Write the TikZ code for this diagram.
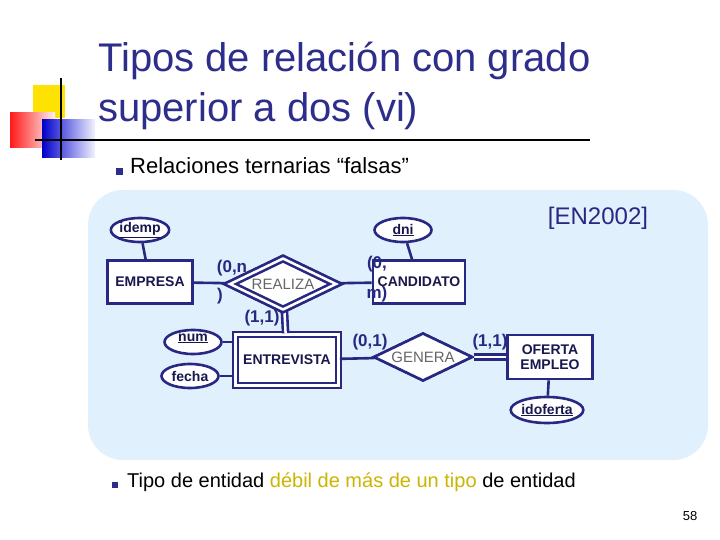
\documentclass[tikz,border=0pt]{standalone}
\usepackage{fontspec}
\setmainfont{Liberation Sans}
\usetikzlibrary{shapes.geometric}
\definecolor{navy}{RGB}{40,40,130}
\definecolor{tnavy}{RGB}{45,45,140}
\definecolor{bgblue}{RGB}{224,240,253}
\definecolor{ylw}{RGB}{205,180,0}
\tikzset{
  ent/.style={draw=navy,line width=2.6pt,fill=white,font=\bfseries\fontsize{14}{15}\selectfont,inner sep=0pt,text=navy!60!black},
  att/.style={ellipse,draw=navy,line width=2.6pt,fill=white,minimum width=57pt,minimum height=24pt,inner sep=0pt,font=\bfseries\fontsize{14}{15}\selectfont,text=navy!60!black},
  rel/.style={diamond,aspect=2,draw=navy,line width=2.6pt,fill=white,inner sep=0pt,font=\fontsize{15}{16}\selectfont,text=black!60},
  card/.style={font=\bfseries\fontsize{17}{18}\selectfont,text=navy,align=left},
  ln/.style={draw=navy,line width=2.6pt},
}
\begin{document}
\begin{tikzpicture}[x=1pt,y=-1pt]
\useasboundingbox (0,0) rectangle (720,540);
\fill[white] (0,0) rectangle (720,540);
% logo
\fill[yellow!85!orange] (33,85) rectangle (65,118);
\shade[left color=red!90,right color=red!5] (10,113) rectangle (55,148);
\shade[left color=blue!80!black,right color=blue!5] (42,120) rectangle (95,158);
\draw[line width=1.5pt] (61,78) -- (61,160);
\draw[line width=1.2pt] (35,140) -- (590,140);
% title
\node[anchor=base west,text=tnavy,font=\fontsize{40}{42}\selectfont,inner sep=0pt] (t1) at (98,72) {Tipos de relación con grado};
\node[anchor=base west,text=tnavy,font=\fontsize{40}{42}\selectfont,inner sep=0pt] (t2) at (98,122) {superior a dos (vi)};
\node[fill=tnavy,minimum size=7pt,inner sep=0pt] (b1) at (119,172) {};
\node[anchor=base west,font=\fontsize{22}{24}\selectfont,inner sep=0pt] (s1) at (130,174) {Relaciones ternarias “falsas”};
% background
\fill[bgblue,rounded corners=35pt] (88,190) rectangle (708,460);
\node[font=\fontsize{24}{26}\selectfont,text=navy] (en) at (598,218) {[EN2002]};
% entities
\node[ent,minimum width=85pt,minimum height=43pt] (emp) at (150,282) {EMPRESA};
\node[ent,minimum width=92pt,minimum height=43pt] (cand) at (419,282) {CANDIDATO};
\node[ent,minimum width=85pt,minimum height=44pt,align=center] (ofe) at (550,357) {OFERTA\\EMPLEO};
\node[ent,minimum width=103pt,minimum height=51pt,double,double distance=2.5pt] (ent) at (287,360) {ENTREVISTA};
% relationships
\node[rel,minimum width=107pt,minimum height=52pt,double,double distance=2.5pt] (rea) at (283,284) {REALIZA};
\node[rel,minimum width=99pt,minimum height=48pt] (gen) at (423,357) {GENERA};
% attributes
\node[att] (idemp) at (140,230) {\underline{idemp}};
\node[att] (dni) at (403,230) {\underline{dni}};
\node[att] (num) at (193,342) {\underline{\smash{num}}};
\node[att] (fecha) at (190,376) {fecha};
\node[att,minimum width=62pt,minimum height=26pt] (idof) at (547,410) {\underline{idoferta}};
% connectors
\draw[ln] (idemp) -- (emp);
\draw[ln] (dni) -- (cand);
\draw[ln] (idof) -- (ofe);
\draw[ln] (emp) -- (rea);
\draw[ln] (rea) -- (cand);
\draw[ln,double,double distance=2.5pt] (rea) -- (ent);
\draw[ln] (num.east) -- (ent.west |- num.east);
\draw[ln] (fecha.east) -- (ent.west |- fecha.east);
\draw[ln] (ent) -- (gen);
\draw[ln,double,double distance=2.5pt] (gen) -- (ofe);
% redraw nodes over lines
\node[rel,minimum width=107pt,minimum height=52pt,double,double distance=2.5pt] at (283,284) {REALIZA};
\node[rel,minimum width=99pt,minimum height=48pt] at (423,357) {GENERA};
% cardinalities
\node[card] (c1) at (232,268) {(0,n};
\node[card] (c1b) at (220,296) {)};
\node[card] (c2) at (377,264) {(0,};
\node[card] (c2b) at (377,294) {m)};
\node[card] (c3) at (262,318) {(1,1)};
\node[card] (c4) at (370,342) {(0,1)};
\node[card] (c5) at (490,342) {(1,1)};
% bottom bullet
\node[fill=tnavy,minimum size=6pt,inner sep=0pt] (b2) at (115,485) {};
\node[anchor=base west,font=\fontsize{20}{22}\selectfont,inner sep=0pt] (s2) at (127,487) {Tipo de entidad \textcolor{ylw}{débil de más de un tipo} de entidad};
\node[font=\fontsize{13}{14}\selectfont] (pg) at (690,516) {58};
\end{tikzpicture}
\end{document}
